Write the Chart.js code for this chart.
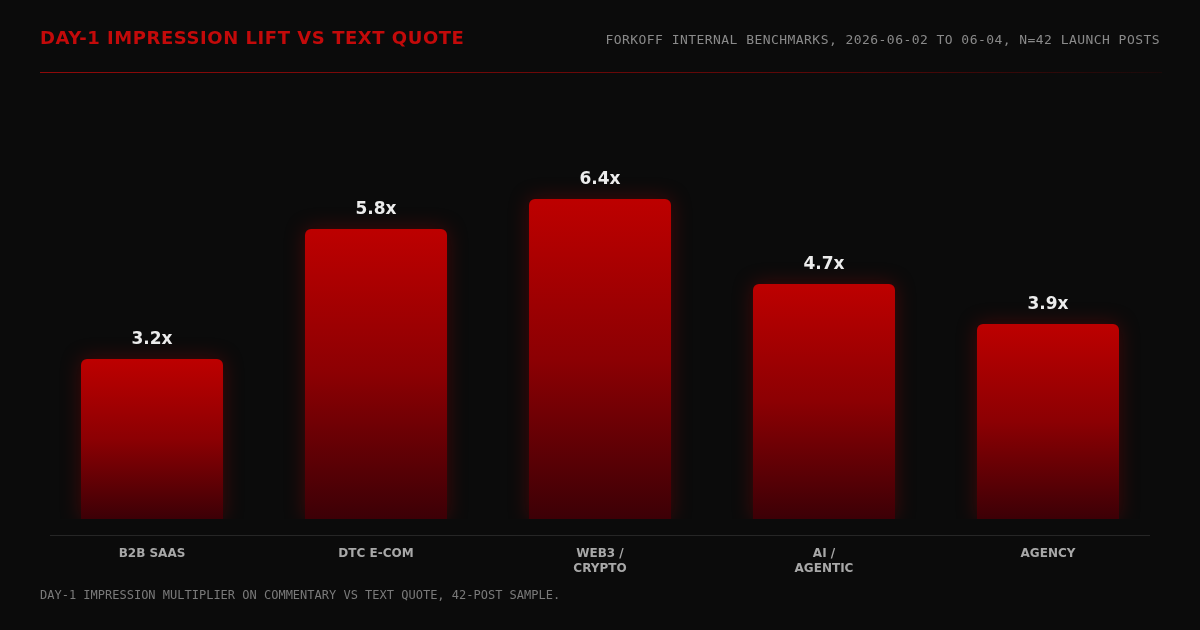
<!DOCTYPE html>
<html lang="en">
<head>
  <meta charset="UTF-8" />
  <title>Day-1 Impression Lift vs Text Quote</title>
  <script src="https://cdn.jsdelivr.net/npm/chart.js"></script>
  <style>
    html, body {
      margin: 0;
      padding: 0;
      background: #0b0b0b;
      width: 1200px;
      height: 630px;
      overflow: hidden;
    }
    .wrap {
      position: relative;
      width: 1200px;
      height: 630px;
    }
    .title {
      position: absolute;
      left: 40px;
      top: 27px;
      color: #c30a0a;
      font: bold 18px 'DejaVu Sans', sans-serif;
      letter-spacing: 0.55px;
    }
    .source {
      position: absolute;
      right: 40px;
      top: 32px;
      color: #8a8a8a;
      font: 13px 'DejaVu Sans Mono', monospace;
      letter-spacing: 0.45px;
    }
    .rule {
      position: absolute;
      left: 40px;
      top: 72px;
      width: 1122px;
      height: 1px;
      background: linear-gradient(to right, #8e0a0a, #5a0808 70%, rgba(90, 8, 8, 0.2));
    }
    .note {
      position: absolute;
      left: 40px;
      top: 588px;
      color: #7a7a7a;
      font: 12px 'DejaVu Sans Mono', monospace;
    }
    canvas {
      position: absolute;
      left: 0;
      top: 0;
    }
  </style>
</head>
<body>
  <div class="wrap">
    <canvas id="liftChart" width="1200" height="630"></canvas>
    <div class="title">DAY-1 IMPRESSION LIFT VS TEXT QUOTE</div>
    <div class="source">FORKOFF INTERNAL BENCHMARKS, 2026-06-02 TO 06-04, N=42 LAUNCH POSTS</div>
    <div class="rule"></div>
    <div class="note">DAY-1 IMPRESSION MULTIPLIER ON COMMENTARY VS TEXT QUOTE, 42-POST SAMPLE.</div>
  </div>

  <script>
    // data
    const segments = [["B2B SAAS"], ["DTC E-COM"], ["WEB3 /", "CRYPTO"], ["AI /", "AGENTIC"], ["AGENCY"]];
    const liftValues = [3.2, 5.8, 6.4, 4.7, 3.9];
    const valueSuffix = "x";

    const ctx = document.getElementById("liftChart").getContext("2d");

    // each bar fades from bright red at its own top to near black at the base
    function barGradient(context) {
      const chart = context.chart;
      const area = chart.chartArea;
      const yScale = chart.scales.y;
      if (!area || !yScale || context.type !== "data") return "#b00000";
      const top = yScale.getPixelForValue(context.parsed.y);
      const g = chart.ctx.createLinearGradient(0, top, 0, area.bottom);
      g.addColorStop(0, "#bd0000");
      g.addColorStop(0.5, "#8c0003");
      g.addColorStop(1, "#3c0006");
      return g;
    }

    // soft red glow behind the bars
    const glowPlugin = {
      id: "glow",
      beforeDatasetsDraw(chart) {
        const c = chart.ctx;
        c.save();
        c.shadowColor = "rgba(190, 0, 0, 0.3)";
        c.shadowBlur = 20;
      },
      afterDatasetsDraw(chart) {
        chart.ctx.restore();
      }
    };

    // value labels and the baseline rule
    const labelPlugin = {
      id: "valueLabels",
      afterDatasetsDraw(chart) {
        const c = chart.ctx;
        const meta = chart.getDatasetMeta(0);
        c.save();
        c.fillStyle = "#ececec";
        c.font = "bold 17px 'DejaVu Sans', sans-serif";
        c.textAlign = "center";
        c.textBaseline = "middle";
        meta.data.forEach((bar, i) => {
          c.fillText(liftValues[i].toFixed(1) + valueSuffix, bar.x, bar.y - 19);
        });
        const y = chart.chartArea.bottom + 16.5;
        c.strokeStyle = "#262626";
        c.lineWidth = 1;
        c.beginPath();
        c.moveTo(50, y);
        c.lineTo(1150, y);
        c.stroke();
        c.restore();
      }
    };

    new Chart(ctx, {
      type: "bar",
      data: {
        labels: segments,
        datasets: [{
          data: liftValues,
          backgroundColor: barGradient,
          borderRadius: { topLeft: 6, topRight: 6, bottomLeft: 0, bottomRight: 0 },
          borderSkipped: "bottom",
          barPercentage: 0.634,
          categoryPercentage: 1
        }]
      },
      options: {
        responsive: false,
        animation: false,
        layout: {
          padding: { left: 40, right: 40, top: 119, bottom: 27 }
        },
        plugins: {
          legend: { display: false },
          tooltip: { enabled: false }
        },
        scales: {
          x: {
            grid: { display: false, drawTicks: false },
            border: { display: false },
            ticks: {
              color: "#a8a8a8",
              padding: 27,
              font: { family: "'DejaVu Sans', sans-serif", size: 12, weight: "bold", lineHeight: 1.25 }
            }
          },
          y: {
            display: false,
            min: 0,
            max: 8
          }
        }
      },
      plugins: [glowPlugin, labelPlugin]
    });
  </script>
</body>
</html>
